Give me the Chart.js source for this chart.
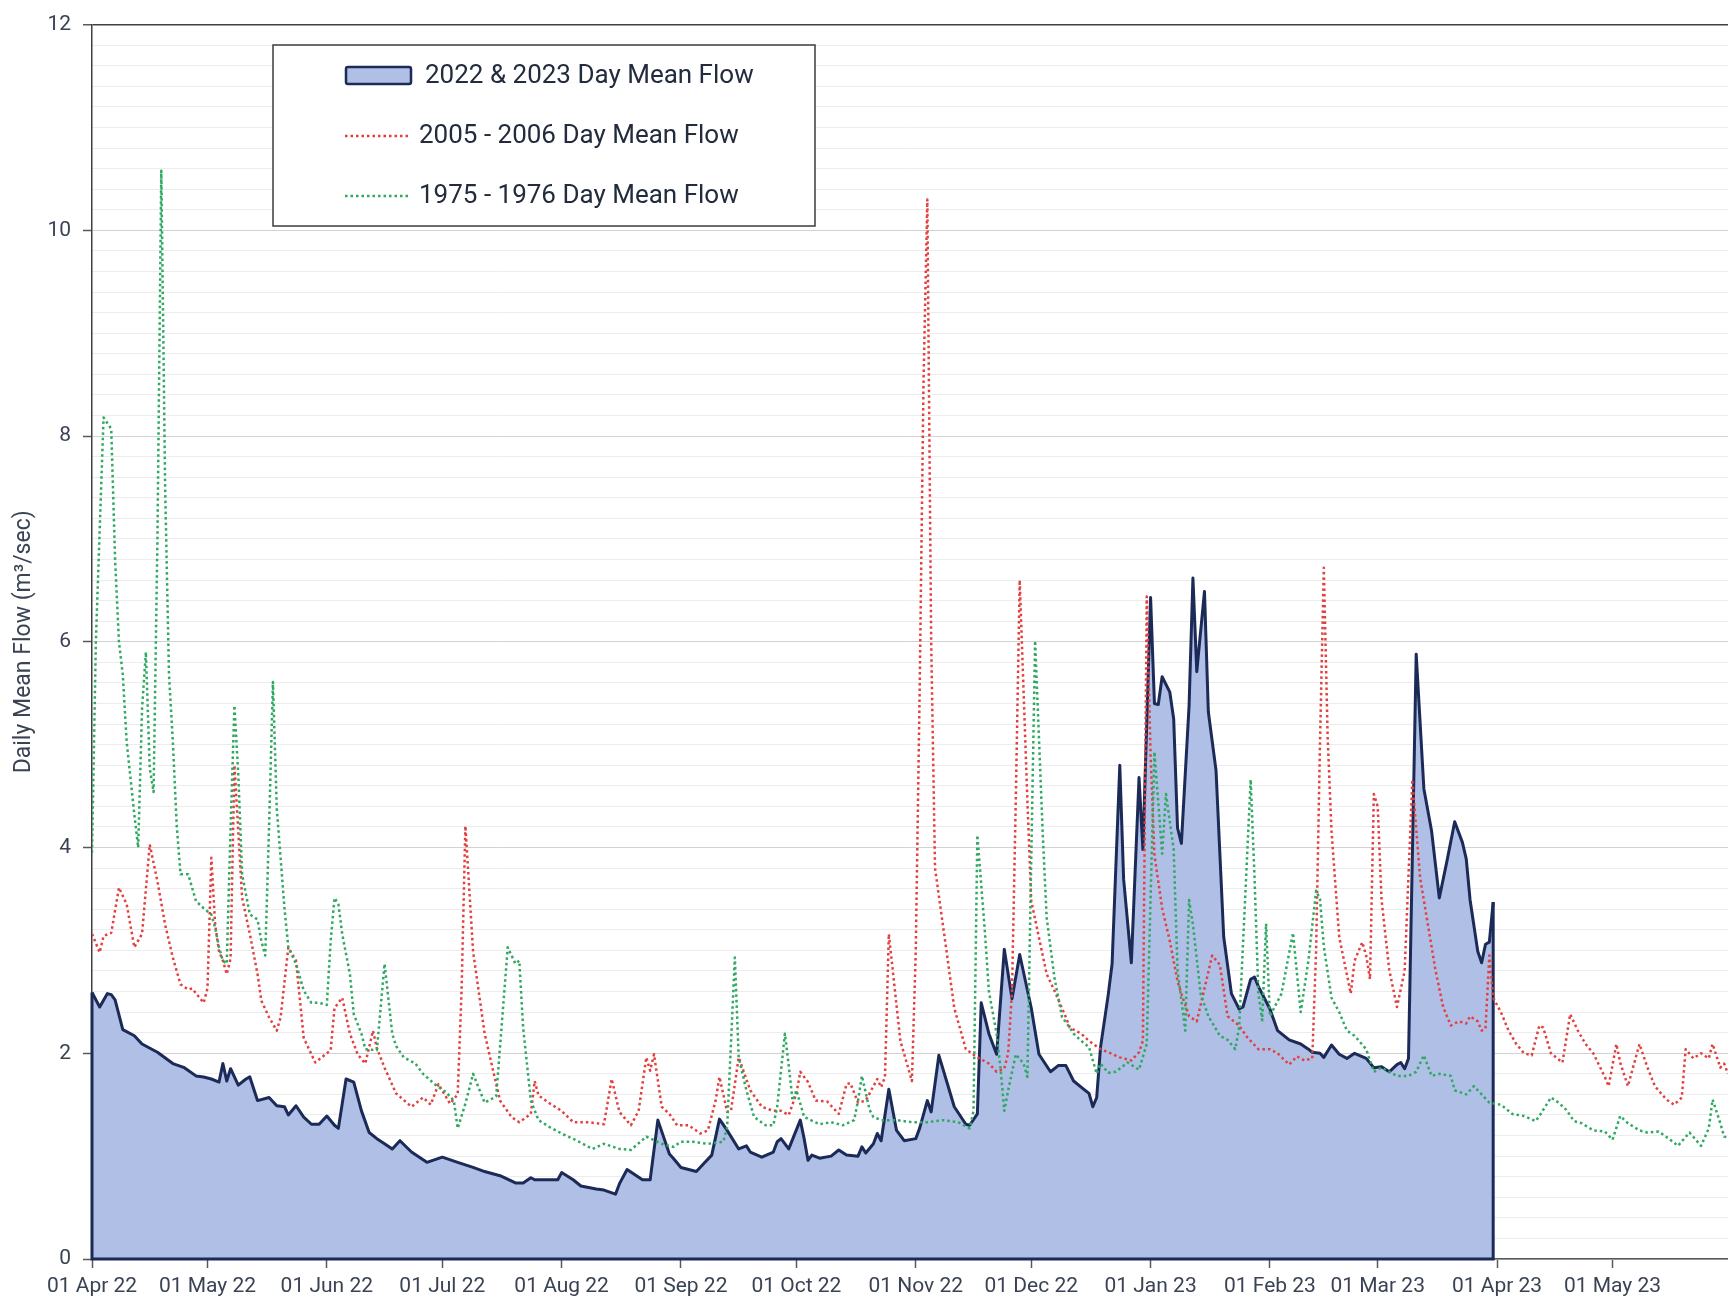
<!DOCTYPE html>
<html>
<head>
<meta charset="utf-8">
<title>Daily Mean Flow</title>
<script src="https://cdn.jsdelivr.net/npm/chart.js@4.4.1/dist/chart.umd.min.js"></script>
<style>
    html, body { margin: 0; padding: 0; background: #ffffff; }
    #wrap { width: 1728px; height: 1301px; }
</style>
</head>
<body>
<div id="wrap"><canvas id="flowChart" width="1728" height="1301"></canvas></div>
<script>
// x values are days counted from 01 Apr 2022
const monthTickDays = [0, 30, 61, 91, 122, 153, 183, 214, 244, 275, 306, 334, 365, 395];
const monthTickLabels = ['01 Apr 22', '01 May 22', '01 Jun 22', '01 Jul 22', '01 Aug 22', '01 Sep 22',
    '01 Oct 22', '01 Nov 22', '01 Dec 22', '01 Jan 23', '01 Feb 23', '01 Mar 23', '01 Apr 23', '01 May 23'];

// 2022 & 2023 day mean flow (m3/sec)
const flow2022Days = [0, 2, 4, 5, 6, 8, 11, 13, 17, 21, 24, 27, 29, 31, 33, 34, 35, 36, 38, 40, 41, 43, 46, 48, 50,
    51, 53, 55, 57, 59, 61, 63, 64, 66, 68, 70, 72, 74, 76, 78, 80, 83, 87, 91, 95, 99, 102, 106, 110, 112, 114, 115,
    121, 122, 125, 127, 131, 133, 136, 137, 139, 143, 145, 147, 150, 151, 153, 157, 159, 161, 163, 165, 168, 170,
    171, 174, 177, 178, 179, 181, 184, 185, 186, 187, 189, 192, 194, 196, 199, 200, 201, 203, 204, 205, 207, 209,
    211, 214, 215, 217, 218, 220, 222, 224, 227, 228, 230, 231, 233, 235, 237, 239, 241, 244, 246, 249, 251, 253,
    255, 258, 259, 260, 261, 262, 264, 265, 267, 268, 270, 272, 273, 275, 276, 277, 278, 280, 281, 282, 283, 285,
    286, 287, 289, 290, 292, 294, 296, 298, 299, 301, 302, 303, 306, 308, 311, 314, 316, 317, 319, 320, 322, 324,
    326, 328, 331, 333, 335, 337, 339, 340, 341, 342, 344, 346, 348, 350, 352, 354, 356, 357, 358, 360, 361, 362,
    363, 364];
const flow2022Values = [2.59, 2.45, 2.58, 2.57, 2.52, 2.23, 2.17, 2.09, 2.01, 1.90, 1.86, 1.78, 1.77, 1.75, 1.72,
    1.90, 1.73, 1.85, 1.69, 1.75, 1.77, 1.54, 1.57, 1.49, 1.48, 1.40, 1.49, 1.38, 1.31, 1.31, 1.39, 1.30, 1.27, 1.75,
    1.72, 1.44, 1.23, 1.17, 1.12, 1.07, 1.15, 1.04, 0.94, 0.99, 0.94, 0.89, 0.85, 0.81, 0.74, 0.74, 0.79, 0.77, 0.77,
    0.84, 0.77, 0.71, 0.68, 0.67, 0.63, 0.73, 0.87, 0.77, 0.77, 1.35, 1.02, 0.98, 0.89, 0.85, 0.93, 1.01, 1.36, 1.25,
    1.07, 1.10, 1.04, 0.99, 1.04, 1.14, 1.17, 1.07, 1.35, 1.17, 0.96, 1.01, 0.98, 1.00, 1.06, 1.01, 1.00, 1.09, 1.03,
    1.12, 1.22, 1.15, 1.65, 1.25, 1.15, 1.17, 1.27, 1.54, 1.43, 1.98, 1.73, 1.48, 1.31, 1.30, 1.41, 2.49, 2.19, 1.99,
    3.01, 2.53, 2.96, 2.44, 1.99, 1.82, 1.88, 1.88, 1.73, 1.64, 1.61, 1.48, 1.57, 2.06, 2.57, 2.87, 4.80, 3.69, 2.88,
    4.68, 3.98, 6.43, 5.40, 5.39, 5.66, 5.51, 5.25, 4.19, 4.04, 5.38, 6.62, 5.71, 6.49, 5.32, 4.75, 3.13, 2.58, 2.43,
    2.45, 2.72, 2.74, 2.65, 2.43, 2.22, 2.13, 2.09, 2.04, 2.01, 2.00, 1.96, 2.08, 1.99, 1.95, 2.00, 1.95, 1.86, 1.87,
    1.82, 1.89, 1.91, 1.85, 1.95, 5.88, 4.57, 4.16, 3.51, 3.87, 4.25, 4.05, 3.89, 3.49, 2.99, 2.88, 3.06, 3.08, 3.47];

// 2005 - 2006 day mean flow
const flow2005Days = [0, 2, 3, 5, 7, 9, 11, 13, 15, 17, 19, 21, 23, 25, 26, 29, 30, 31, 32, 33, 34, 35, 36, 37, 38,
    39, 41, 43, 44, 46, 48, 49, 51, 53, 55, 58, 62, 63, 65, 67, 69, 71, 73, 74, 76, 79, 83, 86, 88, 90, 93, 95, 96,
    97, 99, 102, 106, 109, 111, 114, 115, 116, 119, 122, 125, 129, 133, 135, 137, 140, 142, 144, 145, 146, 148, 150,
    152, 155, 158, 160, 162, 163, 165, 166, 168, 171, 174, 177, 179, 181, 183, 184, 186, 188, 191, 194, 196, 197,
    199, 201, 204, 205, 206, 207, 210, 213, 214, 215, 216, 217, 218, 219, 222, 224, 227, 230, 233, 235, 237, 238,
    239, 240, 241, 243, 244, 248, 250, 253, 254, 257, 259, 262, 264, 267, 270, 272, 273, 274, 275, 276, 277, 278,
    280, 282, 283, 285, 287, 291, 293, 295, 298, 300, 303, 306, 308, 311, 313, 315, 317, 318, 319, 320, 321, 322,
    324, 327, 328, 330, 331, 332, 333, 334, 335, 337, 339, 341, 343, 345, 347, 349, 351, 353, 355, 357, 358, 360,
    361, 362, 363, 364, 366, 368, 370, 372, 374, 376, 377, 379, 382, 384, 386, 388, 390, 393, 394, 396, 397, 399,
    402, 404, 406, 409, 411, 413, 414, 416, 418, 420, 421, 423, 424, 425];
const flow2005Values = [3.16, 2.98, 3.14, 3.17, 3.61, 3.45, 3.03, 3.16, 4.03, 3.67, 3.25, 2.93, 2.67, 2.62, 2.63,
    2.49, 2.63, 3.90, 3.25, 2.99, 2.90, 2.77, 2.92, 4.80, 4.16, 3.51, 3.16, 2.77, 2.51, 2.35, 2.22, 2.35, 3.03, 2.90,
    2.15, 1.91, 2.03, 2.44, 2.54, 2.19, 1.99, 1.90, 2.22, 2.05, 1.86, 1.61, 1.48, 1.57, 1.50, 1.70, 1.51, 1.60, 2.60,
    4.21, 2.99, 2.19, 1.54, 1.38, 1.33, 1.41, 1.73, 1.59, 1.51, 1.44, 1.33, 1.33, 1.31, 1.75, 1.43, 1.30, 1.44, 1.96,
    1.83, 1.99, 1.48, 1.41, 1.30, 1.30, 1.22, 1.25, 1.54, 1.77, 1.43, 1.44, 1.96, 1.64, 1.48, 1.44, 1.44, 1.40, 1.61,
    1.82, 1.72, 1.54, 1.53, 1.41, 1.70, 1.71, 1.52, 1.54, 1.75, 1.67, 1.77, 3.16, 2.12, 1.73, 3.00, 5.50, 8.50, 10.30,
    6.00, 3.80, 2.99, 2.44, 2.04, 1.96, 1.90, 1.82, 1.85, 2.00, 2.60, 4.50, 6.60, 4.45, 3.48, 2.77, 2.61, 2.35, 2.25,
    2.19, 2.12, 2.04, 2.01, 1.96, 1.93, 2.01, 2.12, 6.44, 4.90, 3.93, 3.67, 3.41, 3.09, 2.70, 2.58, 2.36, 2.31, 2.95,
    2.86, 2.36, 2.27, 2.16, 2.04, 2.04, 2.00, 1.89, 1.97, 1.93, 1.95, 3.00, 5.00, 6.72, 5.07, 4.16, 3.13, 2.58, 2.90,
    3.08, 2.95, 2.72, 4.52, 4.40, 3.49, 2.81, 2.45, 2.80, 4.66, 3.71, 3.26, 2.81, 2.45, 2.27, 2.31, 2.29, 2.36, 2.31,
    2.22, 2.24, 2.95, 2.54, 2.40, 2.22, 2.09, 2.00, 1.98, 2.27, 2.25, 2.00, 1.91, 2.38, 2.22, 2.09, 2.00, 1.77, 1.68,
    2.09, 1.91, 1.68, 2.09, 1.87, 1.68, 1.55, 1.50, 1.57, 2.04, 1.95, 2.00, 1.95, 2.09, 1.86, 1.90, 1.80];

// 1975 - 1976 day mean flow
const flow1975Days = [0, 1, 3, 5, 6, 7, 8, 9, 11, 12, 13, 14, 15, 16, 17, 18, 19, 20, 21, 22, 23, 25, 26, 27, 29,
    31, 32, 33, 34, 35, 36, 37, 38, 39, 41, 43, 44, 45, 46, 47, 48, 50, 51, 53, 55, 57, 59, 61, 62, 63, 64, 65, 67,
    68, 70, 71, 74, 76, 78, 79, 81, 84, 86, 89, 92, 94, 95, 97, 99, 102, 105, 108, 110, 111, 112, 114, 116, 119, 122,
    126, 130, 133, 137, 140, 144, 148, 151, 153, 156, 160, 164, 165, 167, 168, 170, 172, 175, 177, 178, 180, 181,
    182, 183, 185, 189, 192, 195, 198, 199, 200, 202, 203, 205, 209, 213, 217, 221, 225, 228, 229, 230, 232, 233,
    235, 236, 237, 238, 240, 242, 243, 245, 247, 248, 250, 252, 254, 255, 257, 259, 261, 262, 264, 266, 269, 272,
    274, 276, 278, 279, 281, 282, 284, 285, 286, 288, 290, 293, 295, 297, 298, 301, 302, 303, 304, 305, 306, 309,
    312, 314, 316, 318, 319, 320, 322, 324, 326, 328, 331, 333, 335, 337, 339, 342, 344, 346, 348, 350, 353, 354,
    357, 359, 361, 363, 366, 369, 372, 375, 376, 379, 381, 383, 385, 387, 390, 393, 395, 397, 399, 402, 404, 407,
    410, 412, 415, 418, 420, 421, 423, 424, 425];
const flow1975Values = [3.95, 6.00, 8.18, 8.07, 6.80, 6.00, 5.68, 5.03, 4.32, 4.00, 5.35, 5.90, 4.77, 4.54, 7.00,
    10.58, 7.50, 5.68, 5.03, 4.22, 3.74, 3.74, 3.61, 3.48, 3.41, 3.35, 3.22, 3.03, 2.90, 2.87, 4.19, 5.38, 4.71, 3.74,
    3.35, 3.30, 3.09, 2.95, 4.20, 5.61, 4.38, 3.41, 3.03, 2.87, 2.61, 2.49, 2.49, 2.47, 3.09, 3.51, 3.45, 3.16, 2.77,
    2.38, 2.19, 2.04, 2.03, 2.87, 2.19, 2.07, 1.96, 1.90, 1.80, 1.70, 1.62, 1.54, 1.27, 1.51, 1.80, 1.52, 1.58, 3.03,
    2.87, 2.90, 2.25, 1.54, 1.35, 1.28, 1.22, 1.15, 1.07, 1.12, 1.07, 1.06, 1.19, 1.12, 1.09, 1.14, 1.14, 1.12, 1.14,
    1.28, 2.93, 1.96, 1.64, 1.38, 1.30, 1.30, 1.48, 2.19, 1.88, 1.54, 1.64, 1.38, 1.31, 1.33, 1.30, 1.35, 1.54, 1.78,
    1.45, 1.38, 1.35, 1.35, 1.33, 1.33, 1.35, 1.33, 1.27, 1.44, 4.12, 3.16, 2.60, 2.19, 1.86, 1.44, 1.64, 1.99, 1.90,
    1.77, 6.01, 4.12, 3.32, 2.74, 2.35, 2.25, 2.19, 2.12, 2.06, 1.80, 1.90, 1.81, 1.82, 1.91, 1.84, 2.09, 4.93, 3.94,
    4.52, 3.98, 2.81, 2.22, 3.49, 3.25, 2.58, 2.36, 2.17, 2.13, 2.04, 2.25, 4.66, 3.71, 2.58, 2.32, 3.26, 2.36, 2.58,
    3.17, 2.40, 2.90, 3.58, 3.50, 3.04, 2.54, 2.40, 2.22, 2.17, 2.04, 1.82, 1.86, 1.82, 1.78, 1.78, 1.82, 1.98, 1.78,
    1.80, 1.78, 1.64, 1.60, 1.68, 1.60, 1.52, 1.50, 1.41, 1.39, 1.34, 1.39, 1.57, 1.52, 1.45, 1.34, 1.32, 1.25, 1.24,
    1.16, 1.39, 1.32, 1.25, 1.23, 1.24, 1.16, 1.10, 1.23, 1.10, 1.27, 1.55, 1.32, 1.19, 1.18];

const seriesNames = ['2022 & 2023 Day Mean Flow', '2005 - 2006 Day Mean Flow', '1975 - 1976 Day Mean Flow'];

const NAVY = '#1b2a57';
const AREA_FILL = '#afbfe5';
const RED = '#e2403f';
const GREEN = '#2fa862';
const TEXT = '#3a4354';
const FONT = "Roboto, 'Noto Sans', sans-serif";

function toPoints(days, values) {
    return days.map((d, i) => ({ x: d, y: values[i] }));
}

function isMajor(v) {
    return Math.abs(v / 2 - Math.round(v / 2)) < 1e-6;
}

// Excel draws the outline right round the area, so close it down to zero
const areaEdges = {
    id: 'areaEdges',
    afterDatasetDraw(chart, args) {
        if (args.index !== 0) return;
        const pts = args.meta.data;
        const base = chart.scales.y.getPixelForValue(0);
        const first = pts[0];
        const last = pts[pts.length - 1];
        const ctx = chart.ctx;
        ctx.save();
        ctx.strokeStyle = NAVY;
        ctx.lineWidth = 3;
        ctx.beginPath();
        ctx.moveTo(first.x, first.y);
        ctx.lineTo(first.x, base);
        ctx.lineTo(last.x, base);
        ctx.lineTo(last.x, last.y);
        ctx.stroke();
        ctx.restore();
    }
};

// legend box sitting inside the plot, top left
const boxLegend = {
    id: 'boxLegend',
    afterDraw(chart) {
        const ctx = chart.ctx;
        ctx.save();
        ctx.fillStyle = '#ffffff';
        ctx.fillRect(273, 45, 542, 181);
        ctx.strokeStyle = '#3c3c3c';
        ctx.lineWidth = 1.5;
        ctx.strokeRect(273, 45, 542, 181);

        // area swatch
        ctx.fillStyle = AREA_FILL;
        ctx.strokeStyle = NAVY;
        ctx.lineWidth = 2.5;
        ctx.beginPath();
        ctx.roundRect(346, 67, 65, 17, 2);
        ctx.fill();
        ctx.stroke();

        // dotted swatches
        ctx.lineWidth = 2.5;
        ctx.setLineDash([2.5, 3]);
        ctx.strokeStyle = RED;
        ctx.beginPath();
        ctx.moveTo(345, 136);
        ctx.lineTo(411, 136);
        ctx.stroke();
        ctx.strokeStyle = GREEN;
        ctx.beginPath();
        ctx.moveTo(345, 196);
        ctx.lineTo(411, 196);
        ctx.stroke();
        ctx.setLineDash([]);

        ctx.fillStyle = '#222c3c';
        ctx.font = '26px ' + FONT;
        ctx.textBaseline = 'middle';
        ctx.textAlign = 'left';
        ctx.fillText(seriesNames[0], 425, 76);
        ctx.fillText(seriesNames[1], 419, 136);
        ctx.fillText(seriesNames[2], 419, 196);
        ctx.restore();
    }
};

const ctx = document.getElementById('flowChart').getContext('2d');
const flowChart = new Chart(ctx, {
    type: 'line',
    data: {
        datasets: [
            {
                label: seriesNames[0],
                data: toPoints(flow2022Days, flow2022Values),
                borderColor: NAVY,
                borderWidth: 3,
                backgroundColor: AREA_FILL,
                fill: 'origin',
                order: 3
            },
            {
                label: seriesNames[1],
                data: toPoints(flow2005Days, flow2005Values),
                borderColor: RED,
                borderWidth: 2.5,
                borderDash: [2.5, 3],
                fill: false,
                order: 2
            },
            {
                label: seriesNames[2],
                data: toPoints(flow1975Days, flow1975Values),
                borderColor: GREEN,
                borderWidth: 2.5,
                borderDash: [2.5, 3],
                fill: false,
                order: 1
            }
        ]
    },
    options: {
        responsive: false,
        animation: false,
        devicePixelRatio: 1,
        layout: { padding: { top: 20, right: 0, bottom: 0, left: 0 } },
        elements: {
            point: { radius: 0 },
            line: { tension: 0, borderJoinStyle: 'round' }
        },
        plugins: {
            legend: { display: false },
            tooltip: { enabled: false }
        },
        scales: {
            x: {
                type: 'linear',
                min: 0,
                max: 425,
                afterBuildTicks: scale => {
                    scale.ticks = monthTickDays.map(v => ({ value: v }));
                },
                afterFit: scale => { scale.height = 42; },
                ticks: {
                    autoSkip: false,
                    maxRotation: 0,
                    minRotation: 0,
                    padding: 6,
                    color: TEXT,
                    font: { family: FONT, size: 21 },
                    callback: value => {
                        const i = monthTickDays.indexOf(value);
                        return i >= 0 ? monthTickLabels[i] : '';
                    }
                },
                grid: {
                    drawOnChartArea: false,
                    tickLength: 9,
                    tickColor: '#595959',
                    tickWidth: 1.5
                },
                border: { color: '#595959', width: 1.5 }
            },
            y: {
                min: 0,
                max: 12,
                afterFit: scale => { scale.width = 92; },
                ticks: {
                    stepSize: 0.2,
                    autoSkip: false,
                    padding: 12,
                    color: TEXT,
                    font: { family: FONT, size: 21 },
                    callback: value => isMajor(value) ? String(Math.round(value)) : ''
                },
                grid: {
                    color: c => {
                        const v = c.tick.value;
                        if (Math.abs(v - 12) < 1e-6) return '#404040';
                        return isMajor(v) ? '#d2d2d2' : '#ececec';
                    },
                    lineWidth: c => Math.abs(c.tick.value - 12) < 1e-6 ? 1.5 : 1,
                    tickColor: c => isMajor(c.tick.value) ? '#595959' : 'rgba(0,0,0,0)',
                    tickLength: 9,
                    tickWidth: 1.5
                },
                border: { color: '#404040', width: 1.5 },
                title: {
                    display: true,
                    text: 'Daily Mean Flow (m³/sec)',
                    color: TEXT,
                    font: { family: FONT, size: 23 },
                    padding: { top: 10, bottom: 0 }
                }
            }
        }
    },
    plugins: [areaEdges, boxLegend]
});
</script>
</body>
</html>
